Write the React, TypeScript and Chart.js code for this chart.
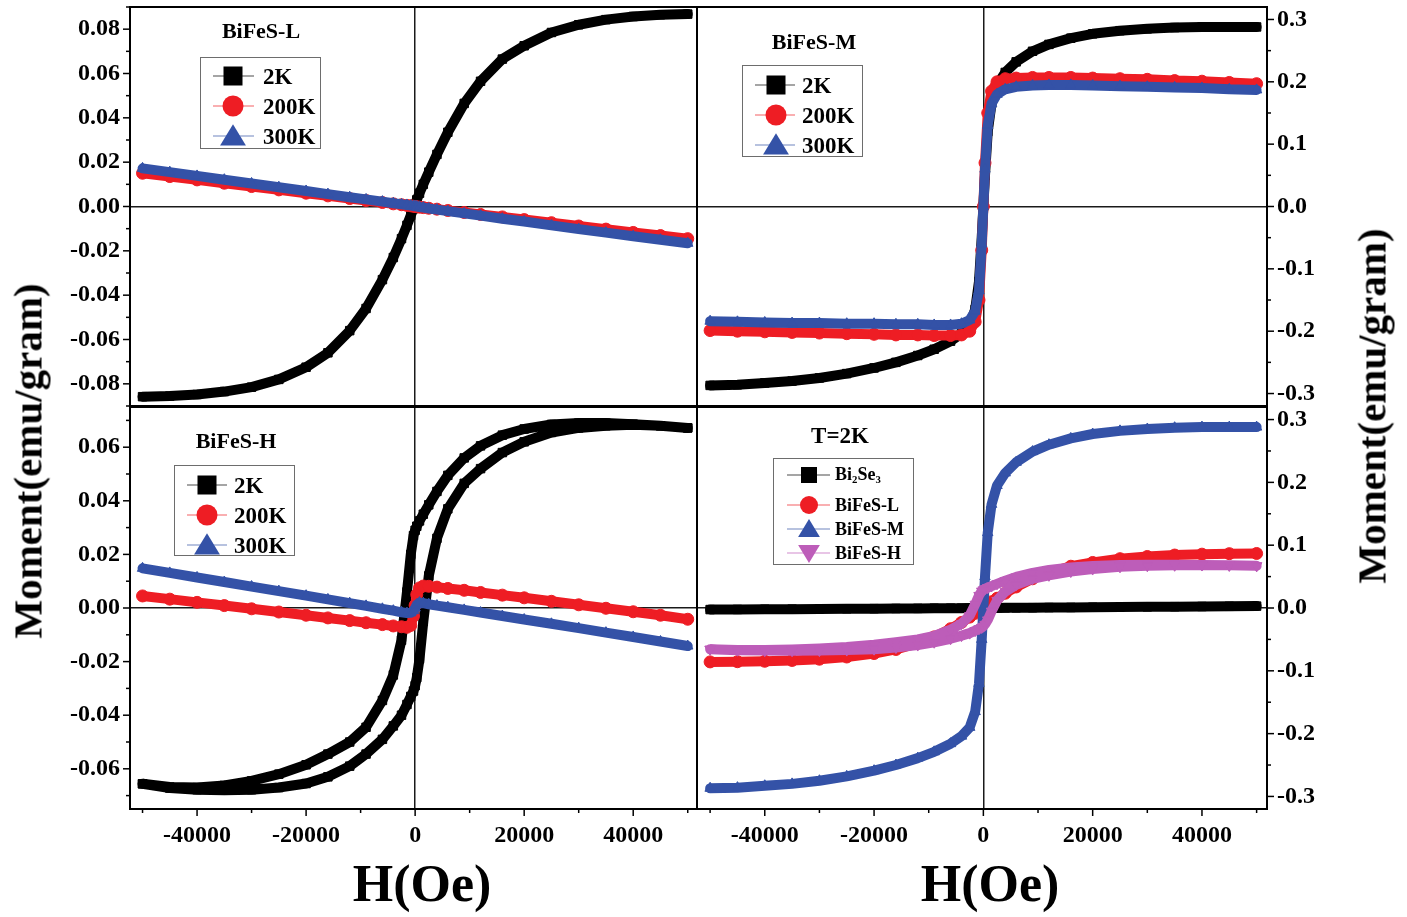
import React, { useEffect, useRef } from 'react';
import { Chart, registerables } from 'chart.js';

Chart.register(...registerables);

const PAGE_W = 1407;
const PAGE_H = 917;
const SERIF = "'Liberation Serif', 'Times New Roman', serif";

// ---------- data ----------
const FIELD_OE = [-50000, -45000, -40000, -35000, -30000, -25000, -20000, -16000, -12000, -9000, -6000, -4000, -2500, -1500, -800, -300, 0, 300, 800, 1500, 2500, 4000, 6000, 9000, 12000, 16000, 20000, 25000, 30000, 35000, 40000, 45000, 50000];

// BiFeS-L
const L_2K = [-0.0858, -0.0855, -0.0848, -0.0835, -0.0815, -0.078, -0.0725, -0.066, -0.056, -0.046, -0.033, -0.023, -0.0145, -0.0085, -0.004, -0.001, 0.001, 0.003, 0.006, 0.01, 0.0155, 0.0235, 0.0335, 0.0465, 0.0565, 0.0665, 0.0725, 0.0785, 0.082, 0.0843, 0.0857, 0.0865, 0.0868];
const L_200K = [0.015, 0.0135, 0.012, 0.0105, 0.009, 0.0075, 0.006, 0.0048, 0.0036, 0.0027, 0.0018, 0.0012, 0.0008, 0.0005, 0.0003, 0.0001, 0.0, -0.0001, -0.0003, -0.0005, -0.0008, -0.0012, -0.0018, -0.0027, -0.0036, -0.0047, -0.0059, -0.0073, -0.0088, -0.0102, -0.0117, -0.0131, -0.0145];
const L_300K = [0.0172, 0.0155, 0.0138, 0.0121, 0.0104, 0.0087, 0.007, 0.0056, 0.0042, 0.0032, 0.0022, 0.0015, 0.001, 0.0007, 0.0004, 0.0002, 0.0001, 0.0, -0.0002, -0.0005, -0.0009, -0.0014, -0.0021, -0.0031, -0.0041, -0.0055, -0.0068, -0.0085, -0.0102, -0.0118, -0.0134, -0.015, -0.0166];

// BiFeS-M
const M_2K = [-0.287, -0.286, -0.283, -0.28, -0.275, -0.268, -0.259, -0.25, -0.239, -0.229, -0.216, -0.204, -0.19, -0.165, -0.12, -0.05, 0.0, 0.05, 0.12, 0.165, 0.195, 0.215, 0.232, 0.249, 0.26, 0.27, 0.277, 0.282, 0.285, 0.287, 0.288, 0.288, 0.288];
const M_200K = [-0.199, -0.2, -0.201, -0.202, -0.203, -0.204, -0.205, -0.206, -0.206, -0.207, -0.207, -0.206, -0.2, -0.185, -0.15, -0.07, 0.0, 0.07, 0.15, 0.185, 0.2, 0.205, 0.206, 0.207, 0.207, 0.207, 0.206, 0.205, 0.204, 0.202, 0.201, 0.199, 0.197];
const M_300K = [-0.184, -0.185, -0.186, -0.187, -0.187, -0.188, -0.188, -0.189, -0.189, -0.19, -0.19, -0.188, -0.182, -0.168, -0.135, -0.06, 0.0, 0.06, 0.13, 0.165, 0.18, 0.188, 0.192, 0.194, 0.195, 0.195, 0.194, 0.193, 0.192, 0.191, 0.19, 0.188, 0.187];

// BiFeS-H (2K is an open loop: field sweeping down / up)
const H_2K_DOWN = [-0.0656, -0.0668, -0.067, -0.0662, -0.0645, -0.062, -0.0585, -0.0545, -0.05, -0.0445, -0.0345, -0.025, -0.012, 0.006, 0.02, 0.027, 0.029, 0.0305, 0.0325, 0.035, 0.0385, 0.0435, 0.0495, 0.056, 0.0605, 0.0645, 0.0668, 0.0685, 0.069, 0.069, 0.0686, 0.068, 0.0672];
const H_2K_UP = [-0.0656, -0.0672, -0.0678, -0.068, -0.0678, -0.067, -0.0655, -0.063, -0.059, -0.0545, -0.049, -0.044, -0.04, -0.036, -0.033, -0.031, -0.029, -0.026, -0.019, -0.005, 0.012, 0.026, 0.037, 0.0465, 0.052, 0.058, 0.062, 0.0655, 0.0672, 0.068, 0.0684, 0.068, 0.0672];
const H_200K = [0.0045, 0.0033, 0.0021, 0.0009, -0.0003, -0.0015, -0.0027, -0.0037, -0.0047, -0.0055, -0.0062, -0.0067, -0.007, -0.0072, -0.0065, -0.003, 0.001, 0.005, 0.0075, 0.0082, 0.0081, 0.0078, 0.0073, 0.0066, 0.0058, 0.0048, 0.0038, 0.0025, 0.0012, -0.0001, -0.0014, -0.0027, -0.0042];
const H_300K = [0.0148, 0.0131, 0.0114, 0.0097, 0.008, 0.0063, 0.0046, 0.0032, 0.0018, 0.0008, -0.0003, -0.001, -0.0016, -0.0019, -0.0018, -0.001, 0.0, 0.0012, 0.002, 0.0018, 0.0014, 0.0009, 0.0003, -0.0007, -0.0017, -0.003, -0.0043, -0.0059, -0.0075, -0.0092, -0.0108, -0.0125, -0.0142];

// Bi2Se3 at 2K
const BI2SE3_2K = [-0.0025, -0.0023, -0.002, -0.0018, -0.0015, -0.0012, -0.001, -0.0008, -0.0006, -0.0004, -0.0003, -0.0002, -0.0001, -0.0001, 0.0, 0.0, 0.0, 0.0, 0.0, 0.0001, 0.0001, 0.0002, 0.0003, 0.0005, 0.0007, 0.0009, 0.0012, 0.0015, 0.0018, 0.0021, 0.0024, 0.0027, 0.003];

// tick labels
const X_TICK_VALUES = [-40000, -20000, 0, 20000, 40000];
const X_TICK_LABELS = ['-40000', '-20000', '0', '20000', '40000'];
const Y_TICK_VALUES_L = [-0.08, -0.06, -0.04, -0.02, 0, 0.02, 0.04, 0.06, 0.08];
const Y_TICK_LABELS_L = ['-0.08', '-0.06', '-0.04', '-0.02', '0.00', '0.02', '0.04', '0.06', '0.08'];
const Y_TICK_VALUES_H = [-0.06, -0.04, -0.02, 0, 0.02, 0.04, 0.06];
const Y_TICK_LABELS_H = ['-0.06', '-0.04', '-0.02', '0.00', '0.02', '0.04', '0.06'];
const Y_TICK_VALUES_R = [-0.3, -0.2, -0.1, 0, 0.1, 0.2, 0.3];
const Y_TICK_LABELS_R = ['-0.3', '-0.2', '-0.1', '0.0', '0.1', '0.2', '0.3'];

const LEGEND_TEMPS = ['2K', '200K', '300K'];
const LEGEND_SAMPLES = ['Bi2Se3', 'BiFeS-L', 'BiFeS-M', 'BiFeS-H'];
const PANEL_TITLES = ['BiFeS-L', 'BiFeS-M', 'BiFeS-H', 'T=2K'];

const BLACK = '#000000';
const RED = '#ee1d24';
const BLUE = '#3452a7';
const MAGENTA = '#bd5db9';

// ---------- helpers ----------
type Pt = { x: number; y: number };
const zip = (xs: number[], ys: number[]): Pt[] => xs.map((x, i) => ({ x, y: ys[i] }));
const loop = (xs: number[], down: number[], up: number[]): Pt[] => [...zip(xs, down).reverse(), ...zip(xs, up)];

type Series = { pts: Pt[]; color: string; style: string; rot: number; order: number };
type Panel = {
  box: { l: number; t: number; r: number; b: number };
  xMin: number; xMax: number;
  yPos: 'left' | 'right';
  yMin: number; yMax: number; yStep: number;
  yVals: number[]; yLabels: string[];
  showX: boolean;
  series: Series[];
};

const PANELS: Panel[] = [
  {
    box: { l: 130, t: 5, r: 697, b: 406 }, xMin: -52300, xMax: 51700,
    yPos: 'left', yMin: -0.09, yMax: 0.09, yStep: 0.01, yVals: Y_TICK_VALUES_L, yLabels: Y_TICK_LABELS_L, showX: false,
    series: [
      { pts: zip(FIELD_OE, L_2K), color: BLACK, style: 'rect', rot: 0, order: 3 },
      { pts: zip(FIELD_OE, L_200K), color: RED, style: 'circle', rot: 0, order: 2 },
      { pts: zip(FIELD_OE, L_300K), color: BLUE, style: 'triangle', rot: 0, order: 1 },
    ],
  },
  {
    box: { l: 697, t: 5, r: 1267, b: 406 }, xMin: -52400, xMax: 51900,
    yPos: 'right', yMin: -0.32, yMax: 0.32, yStep: 0.05, yVals: Y_TICK_VALUES_R, yLabels: Y_TICK_LABELS_R, showX: false,
    series: [
      { pts: zip(FIELD_OE, M_2K), color: BLACK, style: 'rect', rot: 0, order: 3 },
      { pts: zip(FIELD_OE, M_200K), color: RED, style: 'circle', rot: 0, order: 2 },
      { pts: zip(FIELD_OE, M_300K), color: BLUE, style: 'triangle', rot: 0, order: 1 },
    ],
  },
  {
    box: { l: 130, t: 407, r: 697, b: 809 }, xMin: -52300, xMax: 51700,
    yPos: 'left', yMin: -0.075, yMax: 0.075, yStep: 0.01, yVals: Y_TICK_VALUES_H, yLabels: Y_TICK_LABELS_H, showX: true,
    series: [
      { pts: loop(FIELD_OE, H_2K_DOWN, H_2K_UP), color: BLACK, style: 'rect', rot: 0, order: 3 },
      { pts: zip(FIELD_OE, H_200K), color: RED, style: 'circle', rot: 0, order: 2 },
      { pts: zip(FIELD_OE, H_300K), color: BLUE, style: 'triangle', rot: 0, order: 1 },
    ],
  },
  {
    box: { l: 697, t: 407, r: 1267, b: 809 }, xMin: -52400, xMax: 51900,
    yPos: 'right', yMin: -0.32, yMax: 0.32, yStep: 0.05, yVals: Y_TICK_VALUES_R, yLabels: Y_TICK_LABELS_R, showX: true,
    series: [
      { pts: zip(FIELD_OE, BI2SE3_2K), color: BLACK, style: 'rect', rot: 0, order: 4 },
      { pts: zip(FIELD_OE, L_2K), color: RED, style: 'circle', rot: 0, order: 3 },
      { pts: zip(FIELD_OE, M_2K), color: BLUE, style: 'triangle', rot: 0, order: 2 },
      { pts: loop(FIELD_OE, H_2K_DOWN, H_2K_UP), color: MAGENTA, style: 'triangle', rot: 180, order: 1 },
    ],
  },
];

const Y_AXIS_W = 100;
const X_AXIS_H = 60;
const TICK_FONT = { family: SERIF, weight: 'bold' as const, size: 24 };

const labelFor = (vals: number[], labels: string[], tol: number) => (v: number | string) => {
  const n = Number(v);
  const i = vals.findIndex((t) => Math.abs(t - n) < tol);
  return i >= 0 ? labels[i] : '';
};
// put a tick on every multiple of the minor step inside the axis range
const stepTicks = (step: number) => (s: any) => {
  const out: { value: number }[] = [];
  const k0 = Math.ceil(s.min / step - 1e-9);
  const k1 = Math.floor(s.max / step + 1e-9);
  for (let k = k0; k <= k1; k++) out.push({ value: Number((k * step).toFixed(6)) });
  s.ticks = out;
};
const zeroLine = (c: any) => (c.tick && Math.abs(c.tick.value) < 1e-9 ? '#1a1a1a' : 'rgba(0,0,0,0)');

const framePlugin = {
  id: 'frameTicks',
  afterDraw(chart: any) {
    const { ctx, chartArea: a } = chart;
    ctx.save();
    ctx.strokeStyle = '#000';
    ctx.lineWidth = 2;
    ctx.strokeRect(a.left, a.top, a.right - a.left, a.bottom - a.top);
    ctx.lineWidth = 1.5;
    ['x', 'y'].forEach((id) => {
      const s = chart.scales[id];
      if (!s || !s.options.ticks.display) return;
      s.ticks.forEach((t: any) => {
        const len = t.label !== '' ? 7 : 4;
        const p = s.getPixelForValue(t.value);
        ctx.beginPath();
        if (id === 'x') {
          ctx.moveTo(p, a.bottom);
          ctx.lineTo(p, a.bottom + len);
        } else if (s.position === 'left') {
          ctx.moveTo(a.left, p);
          ctx.lineTo(a.left - len, p);
        } else {
          ctx.moveTo(a.right, p);
          ctx.lineTo(a.right + len, p);
        }
        ctx.stroke();
      });
    });
    ctx.restore();
  },
};

function makeConfig(p: Panel): any {
  const padding = {
    left: p.yPos === 'left' ? p.box.l - Y_AXIS_W : p.box.l,
    right: p.yPos === 'right' ? PAGE_W - p.box.r - Y_AXIS_W : PAGE_W - p.box.r,
    top: p.box.t,
    bottom: p.showX ? PAGE_H - p.box.b - X_AXIS_H : PAGE_H - p.box.b,
  };
  return {
    type: 'scatter',
    data: {
      datasets: p.series.map((s) => ({
        data: s.pts,
        showLine: true,
        borderColor: s.color,
        backgroundColor: s.color,
        borderWidth: 10,
        borderJoinStyle: 'round',
        borderCapStyle: 'round',
        pointRadius: 6,
        pointStyle: s.style,
        pointRotation: s.rot,
        pointBackgroundColor: s.color,
        pointBorderColor: s.color,
        pointBorderWidth: 1,
        tension: 0,
        order: s.order,
      })),
    },
    options: {
      animation: false,
      responsive: false,
      events: [],
      layout: { padding },
      plugins: { legend: { display: false }, tooltip: { enabled: false } },
      scales: {
        x: {
          type: 'linear',
          position: 'bottom',
          min: p.xMin,
          max: p.xMax,
          afterBuildTicks: stepTicks(10000),
          afterFit: (s: any) => {
            s.height = p.showX ? X_AXIS_H : 0;
            s.paddingLeft = 0;
            s.paddingRight = 0;
          },
          ticks: {
            display: p.showX,
            autoSkip: false,
            maxRotation: 0,
            minRotation: 0,
            padding: 12,
            color: '#000',
            font: TICK_FONT,
            callback: labelFor(X_TICK_VALUES, X_TICK_LABELS, 1),
          },
          grid: { drawTicks: false, color: zeroLine, lineWidth: 1.5 },
          border: { display: false },
        },
        y: {
          type: 'linear',
          position: p.yPos,
          min: p.yMin,
          max: p.yMax,
          afterBuildTicks: stepTicks(p.yStep),
          afterFit: (s: any) => {
            s.width = Y_AXIS_W;
            s.paddingTop = 0;
            s.paddingBottom = 0;
          },
          ticks: {
            autoSkip: false,
            padding: 10,
            color: '#000',
            font: TICK_FONT,
            callback: labelFor(p.yVals, p.yLabels, 1e-6),
          },
          grid: { drawTicks: false, color: zeroLine, lineWidth: 1.5 },
          border: { display: false },
        },
      },
    },
    plugins: [framePlugin],
  };
}

// ---------- HTML overlay pieces ----------
const textBase: React.CSSProperties = {
  position: 'absolute',
  fontFamily: SERIF,
  fontWeight: 'bold',
  color: '#000',
  whiteSpace: 'nowrap',
  lineHeight: 1,
};

function Centered({ x, y, size, rotate, children }: { x: number; y: number; size: number; rotate?: boolean; children: React.ReactNode }) {
  return (
    <div
      style={{
        ...textBase,
        left: x,
        top: y,
        fontSize: size,
        transform: `translate(-50%, -50%)${rotate ? ' rotate(-90deg)' : ''}`,
      }}
    >
      {children}
    </div>
  );
}

function MarkerSvg({ shape, color, size, mx, x1, x2, width }: { shape: string; color: string; size: number; mx: number; x1: number; x2: number; width: number }) {
  const cy = 14;
  let mark: React.ReactNode = null;
  if (shape === 'rect') mark = <rect x={mx - size / 2} y={cy - size / 2} width={size} height={size} fill={color} />;
  else if (shape === 'circle') mark = <circle cx={mx} cy={cy} r={size / 2 + 1} fill={color} />;
  else if (shape === 'up')
    mark = <polygon points={`${mx},${cy - size * 0.62} ${mx - size * 0.68},${cy + size * 0.5} ${mx + size * 0.68},${cy + size * 0.5}`} fill={color} />;
  else
    mark = <polygon points={`${mx},${cy + size * 0.62} ${mx - size * 0.68},${cy - size * 0.5} ${mx + size * 0.68},${cy - size * 0.5}`} fill={color} />;
  return (
    <svg width={width} height={28} style={{ position: 'absolute', left: 0, top: -14 }}>
      <line x1={x1} y1={cy} x2={x2} y2={cy} stroke={color} strokeOpacity={0.7} strokeWidth={1.2} />
      {mark}
    </svg>
  );
}

function chem(label: string) {
  return label.split(/(\d)/).map((part, i) =>
    /\d/.test(part) ? (
      <sub key={i} style={{ fontSize: '0.6em', verticalAlign: '-0.35em' }}>{part}</sub>
    ) : (
      <span key={i}>{part}</span>
    )
  );
}

type LegendRow = { label: React.ReactNode; color: string; shape: string };
function Legend({ left, top, width, height, rows, rowYs, mx, x1, x2, tx, font, msize }: {
  left: number; top: number; width: number; height: number; rows: LegendRow[]; rowYs: number[];
  mx: number; x1: number; x2: number; tx: number; font: number; msize: number;
}) {
  return (
    <div style={{ position: 'absolute', left, top, width, height, border: '1.5px solid #6d6d6d', background: '#fff', boxSizing: 'border-box' }}>
      {rows.map((r, i) => (
        <div key={i} style={{ position: 'absolute', left: 0, top: rowYs[i], width: '100%', height: 0 }}>
          <MarkerSvg shape={r.shape} color={r.color} size={msize} mx={mx} x1={x1} x2={x2} width={tx} />
          <div style={{ ...textBase, left: tx, top: 0, fontSize: font, transform: 'translateY(-50%)' }}>{r.label}</div>
        </div>
      ))}
    </div>
  );
}

const TEMP_ROWS: LegendRow[] = [
  { label: LEGEND_TEMPS[0], color: BLACK, shape: 'rect' },
  { label: LEGEND_TEMPS[1], color: RED, shape: 'circle' },
  { label: LEGEND_TEMPS[2], color: BLUE, shape: 'up' },
];
const SAMPLE_ROWS: LegendRow[] = [
  { label: chem(LEGEND_SAMPLES[0]), color: BLACK, shape: 'rect' },
  { label: LEGEND_SAMPLES[1], color: RED, shape: 'circle' },
  { label: LEGEND_SAMPLES[2], color: BLUE, shape: 'up' },
  { label: LEGEND_SAMPLES[3], color: MAGENTA, shape: 'down' },
];

export default function App() {
  const refs = [useRef<HTMLCanvasElement>(null), useRef<HTMLCanvasElement>(null), useRef<HTMLCanvasElement>(null), useRef<HTMLCanvasElement>(null)];

  useEffect(() => {
    const charts = PANELS.map((p, i) => new Chart(refs[i].current as HTMLCanvasElement, makeConfig(p)));
    return () => charts.forEach((c) => c.destroy());
  }, []);

  return (
    <div style={{ position: 'absolute', left: 0, top: 0, width: PAGE_W, height: PAGE_H, background: '#fff', overflow: 'hidden' }}>
      {refs.map((r, i) => (
        <canvas key={i} ref={r} width={PAGE_W} height={PAGE_H} style={{ position: 'absolute', left: 0, top: 0 }} />
      ))}

      <Centered x={261} y={31} size={22}>{PANEL_TITLES[0]}</Centered>
      <Centered x={814} y={42} size={22}>{PANEL_TITLES[1]}</Centered>
      <Centered x={236} y={441} size={22}>{PANEL_TITLES[2]}</Centered>
      <Centered x={840} y={435} size={23}>{PANEL_TITLES[3]}</Centered>

      <Legend left={200} top={57} width={121} height={92} rows={TEMP_ROWS} rowYs={[18, 48, 78]} mx={32} x1={12} x2={53} tx={62} font={23} msize={19} />
      <Legend left={742} top={65} width={121} height={92} rows={TEMP_ROWS} rowYs={[19, 49, 79]} mx={33} x1={12} x2={52} tx={59} font={23} msize={19} />
      <Legend left={174} top={465} width={121} height={91} rows={TEMP_ROWS} rowYs={[19, 49, 79]} mx={32} x1={12} x2={52} tx={59} font={23} msize={19} />
      <Legend left={773} top={458} width={141} height={107} rows={SAMPLE_ROWS} rowYs={[16, 46, 70, 94]} mx={35} x1={13} x2={56} tx={61} font={18} msize={16} />

      <Centered x={28} y={461} size={41} rotate>Moment(emu/gram)</Centered>
      <Centered x={1372} y={406} size={41} rotate>Moment(emu/gram)</Centered>
      <Centered x={422} y={884} size={52}>H(Oe)</Centered>
      <Centered x={990} y={884} size={52}>H(Oe)</Centered>
    </div>
  );
}
